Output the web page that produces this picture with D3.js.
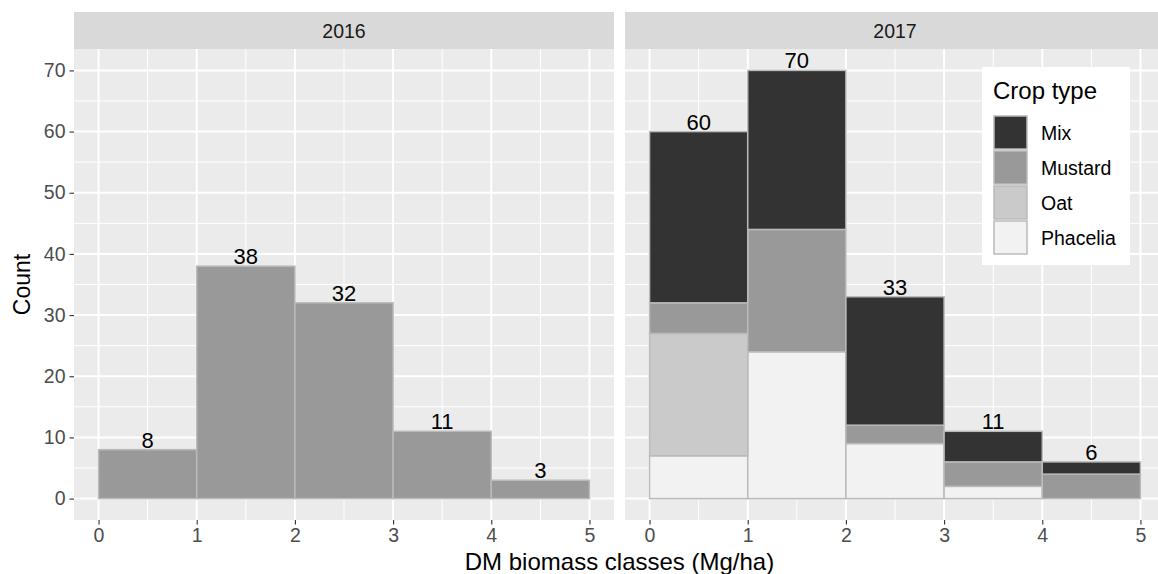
<!DOCTYPE html>
<html>
	<head>
		<meta charset="UTF-8">
		<title>DM biomass classes</title>
		<script src="https://d3js.org/d3.v7.min.js"></script>
	<style>
		body{ margin: 0; background: #ffffff; }
		svg{ display: block; font-family: "Liberation Sans", Arial, sans-serif; }
	</style>
	</head>
	<body>
		<script type="text/javascript">
			// data
			var years = ["2016", "2017"];
			var binEdges = [0, 1, 2, 3, 4, 5];
			var xTicks = [0, 1, 2, 3, 4, 5];
			var yTicks = [0, 10, 20, 30, 40, 50, 60, 70];
			var counts2016 = [8, 38, 32, 11, 3];
			var cropTypes = ["Mix", "Mustard", "Oat", "Phacelia"];
			var mix2017 = [28, 26, 21, 5, 2];
			var mustard2017 = [5, 20, 3, 4, 4];
			var oat2017 = [20, 0, 0, 0, 0];
			var phacelia2017 = [7, 24, 9, 2, 0];
			var cropColors = ["#333333", "#999999", "#cacaca", "#f2f2f2"];

			var width = 1158;
			var height = 574;
			var panelTop = 49;
			var panelBottom = 520;
			var stripTop = 12;
			var panels = [{x0: 74, x1: 614}, {x0: 625, x1: 1165}];
			var barStroke = "#bababa";

			var svg = d3.select("body")
						.append("svg")
						.attr("width", width)
						.attr("height", height);

			svg.append("rect")
				.attr("width", width)
				.attr("height", height)
				.attr("fill", "#ffffff");

			var y = d3.scaleLinear()
						.domain([-3.5, 73.5])
						.range([panelBottom, panelTop]);

			// table of bins for 2017, one row per bin
			var table2017 = [];
			for (var i = 0; i < 5; i++) {
				table2017.push({
					x0: binEdges[i], x1: binEdges[i + 1],
					Mix: mix2017[i], Mustard: mustard2017[i],
					Oat: oat2017[i], Phacelia: phacelia2017[i]
				});
			}
			// ggplot stacks first level on top
			var stackKeys = cropTypes.slice().reverse();
			var stacked = d3.stack().keys(stackKeys)(table2017);
			var colorOf = d3.scaleOrdinal().domain(cropTypes).range(cropColors);

			panels.forEach(function(p, pi){
				var x = d3.scaleLinear()
							.domain([-0.25, 5.25])
							.range([p.x0, p.x1]);
				var g = svg.append("g");

				// strip
				g.append("rect")
					.attr("x", p.x0).attr("y", stripTop)
					.attr("width", p.x1 - p.x0).attr("height", panelTop - stripTop)
					.attr("fill", "#d9d9d9");
				g.append("text")
					.attr("x", (p.x0 + p.x1) / 2)
					.attr("y", 37.5)
					.attr("text-anchor", "middle")
					.style("font-size", "19.5px")
					.attr("fill", "#1a1a1a")
					.text(years[pi]);

				// panel background
				g.append("rect")
					.attr("x", p.x0).attr("y", panelTop)
					.attr("width", p.x1 - p.x0).attr("height", panelBottom - panelTop)
					.attr("fill", "#ebebeb");

				// minor grid
				var xMinor = xTicks.slice(0, -1).map(function(d){ return d + 0.5; });
				var yMinor = yTicks.slice(0, -1).map(function(d){ return d + 5; });
				g.selectAll(".xminor").data(xMinor).enter().append("line")
					.attr("x1", function(d){ return x(d); }).attr("x2", function(d){ return x(d); })
					.attr("y1", panelTop).attr("y2", panelBottom)
					.attr("stroke", "#ffffff").attr("stroke-width", 1);
				g.selectAll(".yminor").data(yMinor).enter().append("line")
					.attr("x1", p.x0).attr("x2", p.x1)
					.attr("y1", function(d){ return y(d); }).attr("y2", function(d){ return y(d); })
					.attr("stroke", "#ffffff").attr("stroke-width", 1);
				// major grid
				g.selectAll(".xmajor").data(xTicks).enter().append("line")
					.attr("x1", function(d){ return x(d); }).attr("x2", function(d){ return x(d); })
					.attr("y1", panelTop).attr("y2", panelBottom)
					.attr("stroke", "#ffffff").attr("stroke-width", 2);
				g.selectAll(".ymajor").data(yTicks).enter().append("line")
					.attr("x1", p.x0).attr("x2", p.x1)
					.attr("y1", function(d){ return y(d); }).attr("y2", function(d){ return y(d); })
					.attr("stroke", "#ffffff").attr("stroke-width", 2);

				// bars
				if (pi == 0) {
					g.selectAll(".bar").data(counts2016).enter().append("rect")
						.attr("x", function(d, i){ return x(binEdges[i]); })
						.attr("y", function(d){ return y(d); })
						.attr("width", function(d, i){ return x(binEdges[i + 1]) - x(binEdges[i]); })
						.attr("height", function(d){ return y(0) - y(d); })
						.attr("fill", "#999999")
						.attr("stroke", barStroke)
						.attr("stroke-width", 1.5);
					g.selectAll(".lab").data(counts2016).enter().append("text")
						.attr("x", function(d, i){ return x((binEdges[i] + binEdges[i + 1]) / 2); })
						.attr("y", function(d){ return y(d) - 2; })
						.attr("text-anchor", "middle")
						.style("font-size", "22px")
						.attr("fill", "#000000")
						.text(function(d){ return d; });
				} else {
					stacked.forEach(function(layer){
						g.selectAll(".seg-" + layer.key).data(layer).enter().append("rect")
							.filter(function(d){ return d[1] > d[0]; })
							.attr("x", function(d){ return x(d.data.x0); })
							.attr("y", function(d){ return y(d[1]); })
							.attr("width", function(d){ return x(d.data.x1) - x(d.data.x0); })
							.attr("height", function(d){ return y(d[0]) - y(d[1]); })
							.attr("fill", colorOf(layer.key))
							.attr("stroke", barStroke)
							.attr("stroke-width", 1.5);
					});
					var top = stacked[stacked.length - 1];
					g.selectAll(".lab").data(top).enter().append("text")
						.attr("x", function(d){ return x((d.data.x0 + d.data.x1) / 2); })
						.attr("y", function(d){ return y(d[1]) - 2; })
						.attr("text-anchor", "middle")
						.style("font-size", "22px")
						.attr("fill", "#000000")
						.text(function(d){ return d[1]; });
				}

				// x axis
				var xAxis = d3.axisBottom(x).tickValues(xTicks).tickFormat(d3.format("d"))
								.tickSize(4.5).tickPadding(4);
				var ax = g.append("g")
							.attr("transform", "translate(0," + panelBottom + ")")
							.call(xAxis);
				ax.select(".domain").remove();
				ax.selectAll(".tick line").attr("stroke", "#333333").attr("stroke-width", 1.1);
				ax.selectAll(".tick text")
					.attr("fill", "#4d4d4d")
					.style("font-size", "19.5px")
					.style("font-family", "Liberation Sans, Arial, sans-serif");

				// y axis only on first panel
				if (pi == 0) {
					var yAxis = d3.axisLeft(y).tickValues(yTicks).tickFormat(d3.format("d"))
									.tickSize(4.5).tickPadding(4);
					var ay = g.append("g")
								.attr("transform", "translate(" + p.x0 + ",0)")
								.call(yAxis);
					ay.select(".domain").remove();
					ay.selectAll(".tick line").attr("stroke", "#333333").attr("stroke-width", 1.1);
					ay.selectAll(".tick text")
						.attr("fill", "#4d4d4d")
						.style("font-size", "19.5px")
						.style("font-family", "Liberation Sans, Arial, sans-serif");
				}
			});

			// axis titles
			svg.append("text")
				.attr("x", (panels[0].x0 + panels[1].x1) / 2)
				.attr("y", 570)
				.attr("text-anchor", "middle")
				.style("font-size", "24px")
				.text("DM biomass classes (Mg/ha)");
			svg.append("text")
				.attr("transform", "translate(30," + ((panelTop + panelBottom) / 2) + ") rotate(-90)")
				.attr("text-anchor", "middle")
				.style("font-size", "23px")
				.text("Count");

			// legend
			var legend = svg.append("g");
			legend.append("rect")
				.attr("x", 982).attr("y", 67)
				.attr("width", 148).attr("height", 198)
				.attr("fill", "#ffffff");
			legend.append("text")
				.attr("x", 993).attr("y", 99)
				.style("font-size", "24px")
				.text("Crop type");
			legend.selectAll(".key").data(cropTypes).enter().append("rect")
				.attr("x", 994)
				.attr("y", function(d, i){ return 116 + i * 35; })
				.attr("width", 33).attr("height", 33)
				.attr("fill", function(d){ return colorOf(d); })
				.attr("stroke", barStroke)
				.attr("stroke-width", 1.5);
			legend.selectAll(".klab").data(cropTypes).enter().append("text")
				.attr("x", 1041)
				.attr("y", function(d, i){ return 132.5 + i * 35 + 7; })
				.style("font-size", "19.5px")
				.attr("fill", "#000000")
				.text(function(d){ return d; });
		</script>
	</body>
</html>
